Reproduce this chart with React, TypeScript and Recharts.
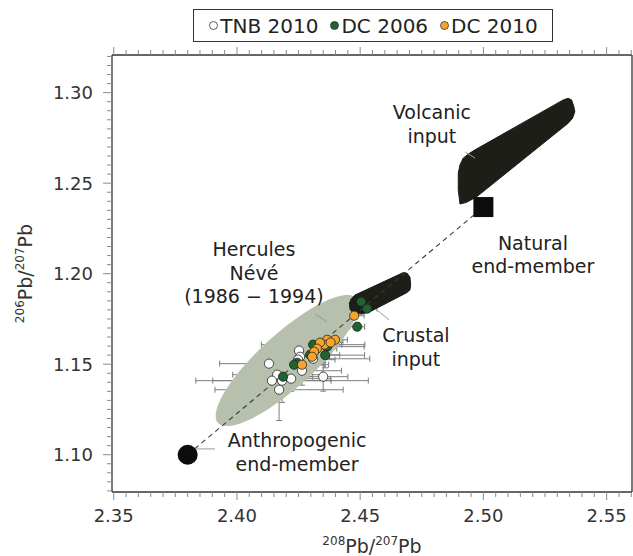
import React from 'react';
import { ScatterChart, Scatter, XAxis, YAxis, ErrorBar, Legend } from 'recharts';

// axis ranges and labelled ticks
const X_DOMAIN = [2.3493, 2.5603];
const Y_DOMAIN = [1.0794, 1.3208];
const X_TICKS_START = 2.35;
const Y_TICKS_START = 1.08;
const MINOR_STEP = 0.005;
const X_TICK_COUNT = 43;
const Y_TICK_COUNT = 49;

// samples: x = 208Pb/207Pb, y = 206Pb/207Pb, ex / ey = error bars
const TNB_2010 = [
  { x: 2.413, y: 1.1503, ex: 0.02, ey: 0.008 },
  { x: 2.4252, y: 1.1575, ex: 0.013, ey: 0.009 },
  { x: 2.4256, y: 1.1541, ex: 0.012, ey: 0.006 },
  { x: 2.4264, y: 1.1464, ex: 0.016, ey: 0.008 },
  { x: 2.4163, y: 1.1442, ex: 0.018, ey: 0.01 },
  { x: 2.4142, y: 1.1409, ex: 0.024, ey: 0.006 },
  { x: 2.4183, y: 1.1409, ex: 0.035, ey: 0.012 },
  { x: 2.422, y: 1.142, ex: 0.016, ey: 0.007 },
  { x: 2.4171, y: 1.1359, ex: 0.026, ey: 0.017 },
  { x: 2.435, y: 1.1431, ex: 0.01, ey: 0.008 },
  { x: 2.4309, y: 1.153, ex: 0.023, ey: 0.006 },
  { x: 2.4248, y: 1.1525, ex: 0.015, ey: 0.009 },
];

const DC_2006 = [
  { x: 2.4504, y: 1.1845, ex: 0.004, ey: 0.002 },
  { x: 2.4528, y: 1.1807, ex: 0.004, ey: 0.002 },
  { x: 2.4488, y: 1.1707, ex: 0.003, ey: 0.002 },
  { x: 2.4366, y: 1.1597, ex: 0.015, ey: 0.006 },
  { x: 2.4309, y: 1.1608, ex: 0.021, ey: 0.005 },
  { x: 2.4297, y: 1.1552, ex: 0.012, ey: 0.006 },
  { x: 2.4244, y: 1.1508, ex: 0.01, ey: 0.007 },
  { x: 2.4232, y: 1.1497, ex: 0.014, ey: 0.005 },
  { x: 2.4187, y: 1.1431, ex: 0.012, ey: 0.006 },
  { x: 2.4358, y: 1.155, ex: 0.016, ey: 0.007 },
];

const DC_2010 = [
  { x: 2.4476, y: 1.1768, ex: 0.004, ey: 0.002 },
  { x: 2.4398, y: 1.1635, ex: 0.005, ey: 0.003 },
  { x: 2.4366, y: 1.1635, ex: 0.006, ey: 0.003 },
  { x: 2.4355, y: 1.1608, ex: 0.007, ey: 0.004 },
  { x: 2.4337, y: 1.1619, ex: 0.008, ey: 0.004 },
  { x: 2.4325, y: 1.1586, ex: 0.008, ey: 0.005 },
  { x: 2.4313, y: 1.1569, ex: 0.006, ey: 0.004 },
  { x: 2.4305, y: 1.1541, ex: 0.007, ey: 0.005 },
  { x: 2.4264, y: 1.1497, ex: 0.009, ey: 0.006 },
  { x: 2.438, y: 1.162, ex: 0.005, ey: 0.003 },
];

// end-members and the mixing line between them
const ANTHROPOGENIC = [{ x: 2.38, y: 1.1 }];
const NATURAL = [{ x: 2.5, y: 1.2368 }];

// outlines of the source fields
const VOLCANIC_INPUT = [
  { x: 2.4905, y: 1.2385 }, { x: 2.4898, y: 1.2462 }, { x: 2.4898, y: 1.2555 },
  { x: 2.4905, y: 1.2601 }, { x: 2.4918, y: 1.2638 }, { x: 2.4939, y: 1.2661 },
  { x: 2.4966, y: 1.2684 }, { x: 2.5324, y: 1.296 }, { x: 2.5344, y: 1.2969 },
  { x: 2.5358, y: 1.296 }, { x: 2.5367, y: 1.2923 }, { x: 2.5371, y: 1.2895 },
  { x: 2.5362, y: 1.2859 }, { x: 2.5344, y: 1.2831 }, { x: 2.4973, y: 1.2425 },
  { x: 2.4932, y: 1.2394 },
];

const CRUSTAL_INPUT = [
  { x: 2.4479, y: 1.1882 }, { x: 2.4675, y: 1.2006 }, { x: 2.4691, y: 1.2002 },
  { x: 2.4702, y: 1.198 }, { x: 2.4705, y: 1.1938 }, { x: 2.4702, y: 1.191 },
  { x: 2.4689, y: 1.1895 }, { x: 2.454, y: 1.179 }, { x: 2.4506, y: 1.1777 },
  { x: 2.4472, y: 1.1781 }, { x: 2.4459, y: 1.1803 }, { x: 2.4456, y: 1.1836 },
  { x: 2.4463, y: 1.1859 },
];

// Hercules Névé field: centre and two half-axes (data units)
const HERCULES_FIELD = { cx: 2.4203, cy: 1.152, ax: 0.028, ay: 0.0345, bx: 0.00734, by: -0.01105 };

const ANNOTATIONS = [
  { x: 2.4791, y: 1.2893, lines: ['Volcanic', 'input'] },
  { x: 2.5201, y: 1.217, lines: ['Natural', 'end-member'] },
  { x: 2.4069, y: 1.2136, lines: ['Hercules', 'Névé', '(1986 − 1994)'] },
  { x: 2.4726, y: 1.1661, lines: ['Crustal', 'input'] },
  { x: 2.4244, y: 1.1081, lines: ['Anthropogenic', 'end-member'] },
];

const LEADERS = [
  [{ x: 2.3801, y: 1.1032 }, { x: 2.3911, y: 1.1032 }],
  [{ x: 2.4568, y: 1.18 }, { x: 2.4617, y: 1.1745 }],
  [{ x: 2.4926, y: 1.2672 }, { x: 2.4966, y: 1.2639 }],
  [{ x: 2.4317, y: 1.1777 }, { x: 2.4366, y: 1.1733 }],
];

const SERIES = [
  { name: 'TNB 2010', data: TNB_2010, color: '#ffffff' },
  { name: 'DC 2006', data: DC_2006, color: '#1d6431' },
  { name: 'DC 2010', data: DC_2010, color: '#f5a52c' },
];

const xTicks = Array.from({ length: X_TICK_COUNT }, (_, i) => +(X_TICKS_START + i * MINOR_STEP).toFixed(3));
const yTicks = Array.from({ length: Y_TICK_COUNT }, (_, i) => +(Y_TICKS_START + i * MINOR_STEP).toFixed(3));

const ellipse = Array.from({ length: 73 }, (_, i) => {
  const t = (i / 72) * 2 * Math.PI;
  const f = HERCULES_FIELD;
  return { x: f.cx + f.ax * Math.cos(t) + f.bx * Math.sin(t), y: f.cy + f.ay * Math.cos(t) + f.by * Math.sin(t) };
});

const TICK_COLOR = '#8a8a8a';
const FRAME = { stroke: '#333', strokeWidth: 1.3 };
const isMajor = (v: number) => Math.abs(v * 20 - Math.round(v * 20)) < 1e-6;

const BottomTick = ({ x, y, payload }: any) => {
  const major = isMajor(payload.value);
  return (
    <g>
      <line x1={x} y1={y} x2={x} y2={y + (major ? 8 : 5)} stroke={TICK_COLOR} />
      {major && (
        <text x={x} y={y + 30} textAnchor="middle" fontSize={18} fill="#333">
          {payload.value.toFixed(2)}
        </text>
      )}
    </g>
  );
};

const TopTick = ({ x, y, payload }: any) => (
  <line x1={x} y1={y} x2={x} y2={y - (isMajor(payload.value) ? 8 : 5)} stroke={TICK_COLOR} />
);

const LeftTick = ({ x, y, payload }: any) => {
  const major = isMajor(payload.value);
  return (
    <g>
      <line x1={x} y1={y} x2={x - (major ? 9 : 5)} y2={y} stroke={TICK_COLOR} />
      {major && (
        <text x={x - 19} y={y} textAnchor="end" dominantBaseline="central" fontSize={18} fill="#333">
          {payload.value.toFixed(2)}
        </text>
      )}
    </g>
  );
};

const XTitle = (props: any) => {
  const vb = props.viewBox;
  return (
    <text x={vb.x + vb.width / 2} y={vb.y + 61} textAnchor="middle" fill="#333">
      <tspan fontSize={12} dy={-8}>208</tspan>
      <tspan fontSize={19} dy={8}>Pb/</tspan>
      <tspan fontSize={12} dy={-8}>207</tspan>
      <tspan fontSize={19} dy={8}>Pb</tspan>
    </text>
  );
};

const YTitle = (props: any) => {
  const vb = props.viewBox;
  const cx = 32;
  const cy = vb.y + vb.height / 2;
  return (
    <text x={cx} y={cy} textAnchor="middle" fill="#333" transform={`rotate(-90 ${cx} ${cy})`}>
      <tspan fontSize={12} dy={-8}>206</tspan>
      <tspan fontSize={19} dy={8}>Pb/</tspan>
      <tspan fontSize={12} dy={-8}>207</tspan>
      <tspan fontSize={19} dy={8}>Pb</tspan>
    </text>
  );
};

const Hidden = () => <g />;

const makeDot = (fill: string) => (p: any) => (
  <circle cx={p.cx} cy={p.cy} r={4.6} fill={fill} stroke="#222" strokeWidth={0.8} />
);

const AnnotationText = (p: any) => (
  <g>
    {p.payload.lines.map((l: string, i: number) => (
      <text key={i} x={p.cx} y={p.cy + i * 23.5} textAnchor="middle" dominantBaseline="central" fontSize={19} fill="#222">
        {l}
      </text>
    ))}
  </g>
);

const LegendBox = () => (
  <div
    style={{
      boxSizing: 'border-box', width: 360, height: 33, border: '1.3px solid #333', background: '#fff',
      display: 'flex', alignItems: 'center', justifyContent: 'center', gap: 11, fontSize: 20, color: '#222',
    }}
  >
    {SERIES.map((s) => (
      <span key={s.name} style={{ display: 'flex', alignItems: 'center' }}>
        <svg width={11} height={11} style={{ marginRight: 1 }}>
          <circle cx={5.5} cy={5.5} r={4} fill={s.color} stroke="#333" strokeWidth={0.8} />
        </svg>
        {s.name}
      </span>
    ))}
  </div>
);

export default function App() {
  return (
    <div style={{ position: 'absolute', left: 0, top: 0, width: 633, height: 556, background: '#fff', fontFamily: '"DejaVu Sans", sans-serif' }}>
      <ScatterChart width={633} height={556} margin={{ top: 0, right: 0, bottom: 0, left: 0 }}>
        <XAxis
          dataKey="x" type="number" domain={X_DOMAIN} allowDataOverflow ticks={xTicks} interval={0}
          height={64} tickSize={0} tickMargin={0} tickLine={false} axisLine={FRAME} tick={<BottomTick />}
          label={{ content: XTitle }}
        />
        <XAxis
          xAxisId="top" orientation="top" dataKey="x" type="number" domain={X_DOMAIN} allowDataOverflow
          ticks={xTicks} interval={0} height={55} tickSize={0} tickMargin={0} tickLine={false} axisLine={FRAME}
          tick={<TopTick />}
        />
        <YAxis
          dataKey="y" type="number" domain={Y_DOMAIN} allowDataOverflow ticks={yTicks} interval={0}
          width={112} tickSize={0} tickMargin={0} tickLine={false} axisLine={FRAME} tick={<LeftTick />}
          label={{ content: YTitle }}
        />
        <YAxis
          yAxisId="right" orientation="right" dataKey="y" type="number" domain={Y_DOMAIN} allowDataOverflow
          width={1} tick={false} tickLine={false} axisLine={FRAME}
        />
        <Legend
          layout="vertical" align="center" verticalAlign="middle" content={LegendBox}
          wrapperStyle={{ left: 193, top: 9, width: 360, height: 33 }}
        />

        <Scatter
          data={ellipse} shape={Hidden} line={{ fill: '#b7bfad', stroke: 'none' }} lineType="joint"
          lineJointType="linearClosed" legendType="none" isAnimationActive={false}
        />

        {SERIES.map((s) => (
          <Scatter key={`err-${s.name}`} data={s.data} shape={Hidden} legendType="none" isAnimationActive={false}>
            <ErrorBar dataKey="ex" direction="x" width={3} stroke="#7e7e7e" strokeWidth={1} />
            <ErrorBar dataKey="ey" direction="y" width={3} stroke="#7e7e7e" strokeWidth={1} />
          </Scatter>
        ))}

        <Scatter
          data={VOLCANIC_INPUT} shape={Hidden} line={{ fill: '#1e1e19', stroke: '#1e1e19', strokeWidth: 1 }}
          lineType="joint" lineJointType="linearClosed" legendType="none" isAnimationActive={false}
        />
        <Scatter
          data={CRUSTAL_INPUT} shape={Hidden} line={{ fill: '#1e1e19', stroke: '#1e1e19', strokeWidth: 1 }}
          lineType="joint" lineJointType="linearClosed" legendType="none" isAnimationActive={false}
        />

        <Scatter
          data={[...ANTHROPOGENIC, ...NATURAL]} shape={Hidden}
          line={{ stroke: '#3a3a3a', strokeWidth: 1.1, strokeDasharray: '5 4', fill: 'none' }}
          lineType="joint" legendType="none" isAnimationActive={false}
        />

        {LEADERS.map((seg, i) => (
          <Scatter
            key={`leader-${i}`} data={seg} shape={Hidden} line={{ stroke: '#9a9a9a', strokeWidth: 1, fill: 'none' }}
            lineType="joint" legendType="none" isAnimationActive={false}
          />
        ))}

        {SERIES.map((s) => (
          <Scatter key={s.name} name={s.name} data={s.data} shape={makeDot(s.color)} isAnimationActive={false} />
        ))}

        <Scatter
          data={ANTHROPOGENIC} legendType="none" isAnimationActive={false}
          shape={(p: any) => <circle cx={p.cx} cy={p.cy} r={10} fill="#0d0d0d" />}
        />
        <Scatter
          data={NATURAL} legendType="none" isAnimationActive={false}
          shape={(p: any) => <rect x={p.cx - 10} y={p.cy - 10} width={20} height={20} fill="#0d0d0d" />}
        />

        <Scatter data={ANNOTATIONS} shape={AnnotationText} legendType="none" isAnimationActive={false} />
      </ScatterChart>
    </div>
  );
}
